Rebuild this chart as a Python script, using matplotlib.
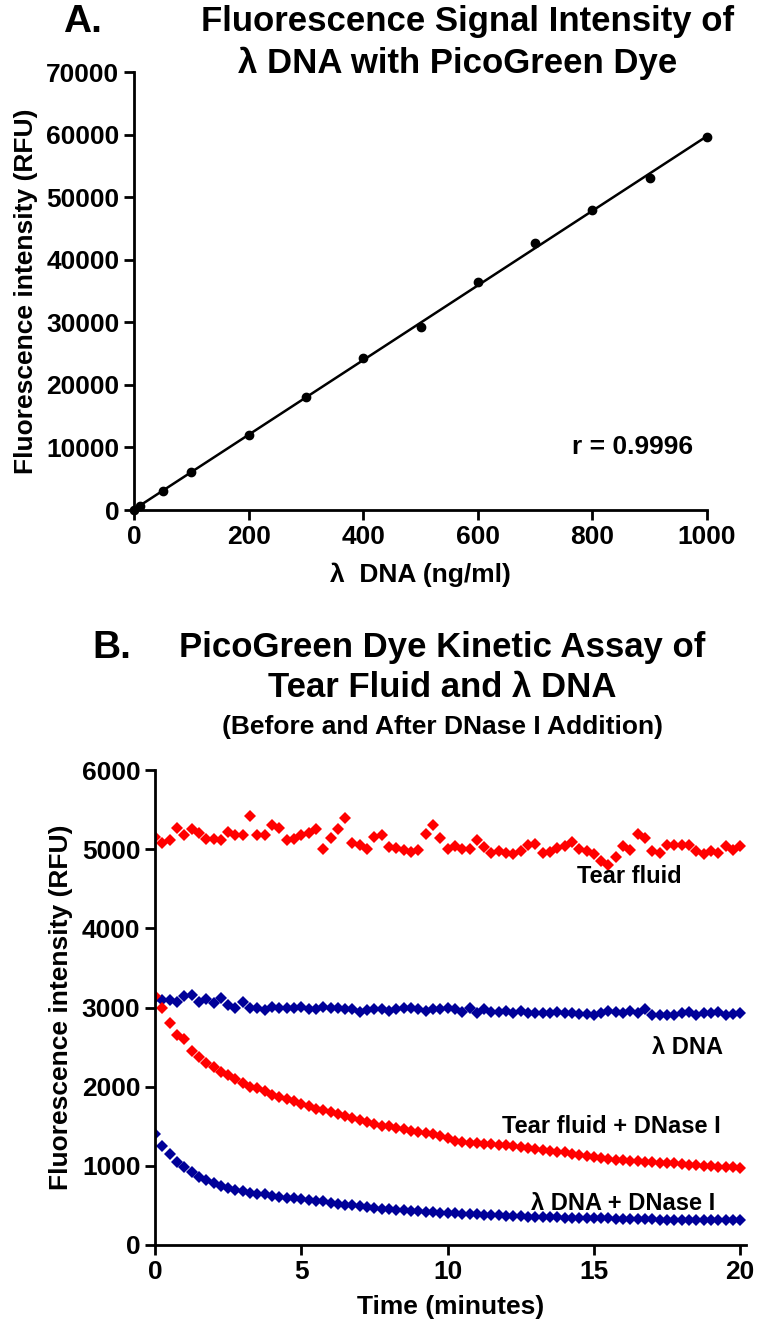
import numpy as np
import matplotlib.pyplot as plt

plt.rcParams['font.family'] = ['Liberation Sans', 'DejaVu Sans']
plt.rcParams['font.weight'] = 'bold'

# ---- panel A data: lambda DNA standard curve
dna_conc = [0, 10, 50, 100, 200, 300, 400, 500, 600, 700, 800, 900, 1000]
dna_rfu = [0, 600, 3000, 6000, 12000, 18000, 24300, 29300, 36500, 42600, 48000, 53000, 59600]

# ---- panel B data: kinetic assay, one reading every 15 s
time_min = [i * 0.25 for i in range(81)]

tear = [5150, 5080, 5120, 5270, 5175, 5250, 5205, 5130, 5130, 5120,
        5220, 5175, 5185, 5420, 5175, 5185, 5300, 5270, 5120, 5130,
        5175, 5205, 5260, 5000, 5140, 5260, 5390, 5080, 5055, 5000,
        5160, 5185, 5025, 5010, 4990, 4960, 4995, 5195, 5305, 5140,
        5000, 5035, 5000, 5000, 5120, 5025, 4950, 4980, 4950, 4940,
        4980, 5055, 5065, 4950, 4960, 5010, 5035, 5090, 5000, 4980,
        4940, 4850, 4800, 4900, 5035, 4995, 5195, 5140, 4980, 4950,
        5055, 5055, 5055, 5055, 4980, 4940, 4980, 4950, 5045, 4995, 5040]

dna = [3115, 3100, 3100, 3070, 3145, 3160, 3070, 3110, 3060, 3125,
       3030, 3000, 3070, 3000, 2995, 2970, 3010, 2990, 2990, 2990,
       3005, 2975, 2975, 3005, 2995, 2995, 2975, 2975, 2940, 2965,
       2975, 2985, 2960, 2985, 2995, 2995, 2975, 2960, 2975, 2975,
       2990, 2975, 2945, 2990, 2930, 2975, 2945, 2945, 2960, 2930,
       2950, 2930, 2930, 2930, 2930, 2945, 2930, 2930, 2915, 2915,
       2905, 2930, 2960, 2945, 2930, 2955, 2925, 2975, 2910, 2910,
       2910, 2910, 2930, 2945, 2910, 2930, 2930, 2945, 2900, 2915, 2930]

tear_dnase = [3150, 3000, 2800, 2650, 2600, 2450, 2380, 2300, 2250, 2180,
              2150, 2100, 2050, 2000, 1980, 1950, 1900, 1870, 1850, 1820,
              1780, 1760, 1720, 1700, 1680, 1660, 1630, 1600, 1580, 1560,
              1530, 1500, 1500, 1480, 1460, 1440, 1430, 1420, 1400, 1380,
              1350, 1320, 1300, 1290, 1290, 1280, 1270, 1260, 1260, 1250,
              1240, 1230, 1210, 1200, 1190, 1180, 1170, 1150, 1140, 1120,
              1110, 1100, 1090, 1080, 1070, 1060, 1060, 1050, 1050, 1040,
              1040, 1030, 1020, 1010, 1010, 1000, 1000, 990, 990, 980, 970]

dna_dnase = [1400, 1250, 1150, 1050, 980, 920, 860, 820, 780, 750,
             720, 700, 680, 660, 650, 640, 620, 610, 600, 590,
             580, 570, 560, 550, 530, 520, 510, 500, 490, 480,
             470, 460, 450, 445, 440, 430, 425, 420, 415, 410,
             405, 400, 395, 390, 390, 385, 380, 375, 370, 370,
             365, 360, 360, 355, 350, 350, 345, 345, 340, 340,
             340, 335, 335, 330, 330, 330, 325, 325, 325, 320,
             320, 320, 318, 318, 315, 315, 315, 312, 312, 310, 310]

W, H = 762, 1343
fig = plt.figure(figsize=(W / 100, H / 100), dpi=100)


def box(left, right, top, bottom):
    return [left / W, 1 - bottom / H, (right - left) / W, (bottom - top) / H]


def style(ax):
    for s in ['top', 'right']:
        ax.spines[s].set_visible(False)
    for s in ['left', 'bottom']:
        ax.spines[s].set_linewidth(2)
    ax.tick_params(direction='out', width=2, length=7, labelsize=19)
    for lab in ax.get_xticklabels() + ax.get_yticklabels():
        lab.set_fontweight('bold')


# ---------------- panel A
axA = fig.add_axes(box(134, 707, 72, 510))
slope, icpt = np.polyfit(dna_conc, dna_rfu, 1)
xfit = np.array([0, 1000])
axA.plot(xfit, slope * xfit + icpt, color='black', lw=1.8)
axA.plot(dna_conc, dna_rfu, 'o', color='black', ms=6, clip_on=False, zorder=3)
axA.set_xlim(0, 1000)
axA.set_ylim(0, 70000)
axA.set_xticks(range(0, 1001, 200))
axA.set_yticks(range(0, 70001, 10000))
style(axA)
axA.set_xlabel('λ  DNA (ng/ml)', fontsize=19, fontweight='bold', labelpad=10)
axA.set_ylabel('Fluorescence intensity (RFU)', fontsize=19, fontweight='bold', labelpad=6)
axA.text(975, 10000, 'r = 0.9996', ha='right', va='center', fontsize=19, fontweight='bold')

fig.text(82 / W, 1 - 22 / H, 'A.', ha='center', va='center', fontsize=28, fontweight='bold')
fig.text(468 / W, 1 - 22 / H, 'Fluorescence Signal Intensity of', ha='center', va='center',
         fontsize=25, fontweight='bold')
fig.text(458 / W, 1 - 63 / H, 'λ DNA with PicoGreen Dye', ha='center', va='center',
         fontsize=25, fontweight='bold')

# ---------------- panel B
axB = fig.add_axes(box(155, 746, 770, 1245))
axB.plot(time_min, tear, 'D', color='#ff0000', ms=6, mew=0)
axB.plot(time_min, dna, 'D', color='#000099', ms=6, mew=0)
axB.plot(time_min, tear_dnase, 'D', color='#ff0000', ms=6, mew=0)
axB.plot(time_min, dna_dnase, 'D', color='#000099', ms=6, mew=0)
axB.set_xlim(0, 20.2)
axB.set_ylim(0, 6000)
axB.set_xticks(range(0, 21, 5))
axB.set_yticks(range(0, 6001, 1000))
style(axB)
axB.set_xlabel('Time (minutes)', fontsize=19, fontweight='bold', labelpad=8)
axB.set_ylabel('Fluorescence intensity (RFU)', fontsize=19, fontweight='bold', labelpad=6)

lab_kw = dict(ha='center', va='center', fontsize=17, fontweight='bold')
axB.text(16.2, 4650, 'Tear fluid', **lab_kw)
axB.text(18.2, 2500, 'λ DNA', **lab_kw)
axB.text(15.6, 1500, 'Tear fluid + DNase I', **lab_kw)
axB.text(16.0, 520, 'λ DNA + DNase I', **lab_kw)

fig.text(112 / W, 1 - 648 / H, 'B.', ha='center', va='center', fontsize=28, fontweight='bold')
fig.text(442 / W, 1 - 648 / H, 'PicoGreen Dye Kinetic Assay of', ha='center', va='center',
         fontsize=25, fontweight='bold')
fig.text(442 / W, 1 - 688 / H, 'Tear Fluid and λ DNA', ha='center', va='center',
         fontsize=25, fontweight='bold')
fig.text(442 / W, 1 - 727 / H, '(Before and After DNase I Addition)', ha='center', va='center',
         fontsize=19, fontweight='bold')

fig.savefig('out.png', dpi=100)
